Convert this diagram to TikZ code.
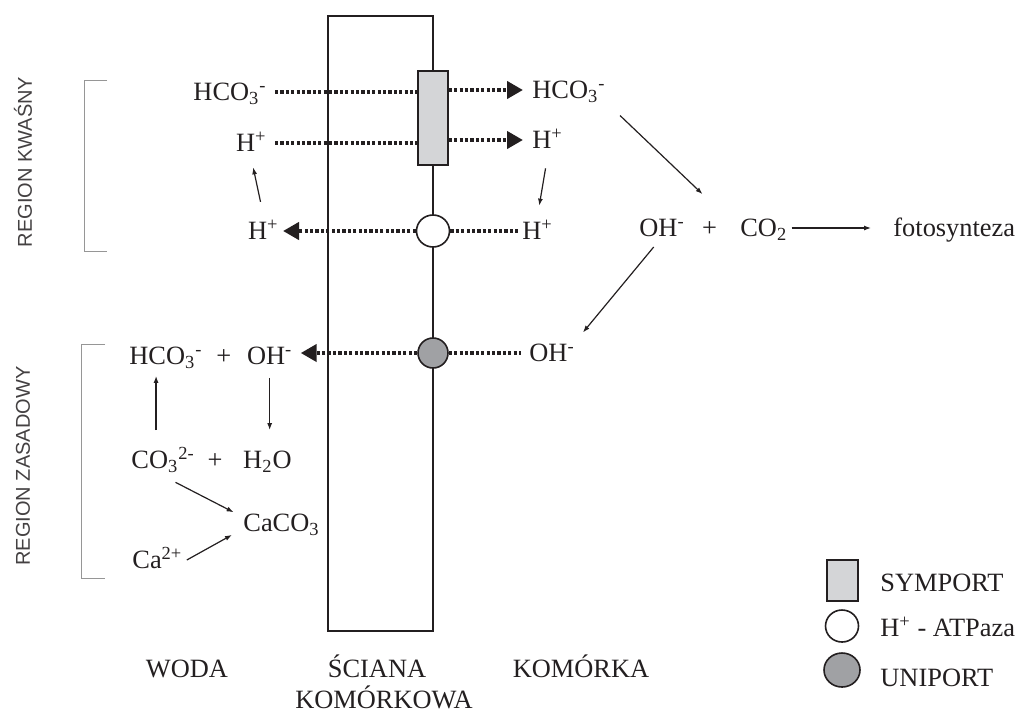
\documentclass[tikz,border=0pt]{standalone}
\usepackage{fontspec}
\setmainfont{Liberation Serif}
\setsansfont{Liberation Sans}
\usetikzlibrary{arrows.meta,positioning,shapes.geometric,calc}
\definecolor{ink}{RGB}{35,31,32}
\definecolor{symgray}{RGB}{212,213,215}
\definecolor{unigray}{RGB}{160,161,164}
\definecolor{bracketgray}{RGB}{150,150,150}
\tikzset{
    chem/.style={
        inner sep=2pt,
        text height=10pt,
        text depth=1.5pt,
        text=ink,
        font=\fontsize{13.2}{15}\selectfont
    },
    zone/.style={
        inner sep=0pt,
        text height=9pt,
        text depth=0pt,
        text=ink,
        font=\fontsize{13.2}{15}\selectfont
    },
    region/.style={
        rotate=90,
        text=ink!85,
        font=\sffamily\fontsize{10}{12}\selectfont
    },
    wall/.style={
        rectangle,
        draw=ink,
        line width=1pt,
        minimum width=52.5pt,
        minimum height=307.5pt,
        inner sep=0pt
    },
    symport/.style={
        rectangle,
        draw=ink,
        line width=0.8pt,
        fill=symgray,
        minimum width=15pt,
        minimum height=47pt,
        inner sep=0pt
    },
    atpase/.style={
        ellipse,
        draw=ink,
        line width=0.8pt,
        fill=white,
        minimum width=16.5pt,
        minimum height=16pt,
        inner sep=0pt
    },
    uniport/.style={
        ellipse,
        draw=ink,
        line width=0.8pt,
        fill=unigray,
        minimum width=15pt,
        minimum height=15pt,
        inner sep=0pt
    },
    transport/.style={
        draw=ink,
        line width=2pt,
        dash pattern=on 1.6pt off 1.1pt
    },
    transportarrow/.style={
        transport,
        -{Triangle[length=8pt,width=8.5pt]}
    },
    reaction/.style={
        draw=ink,
        line width=0.6pt,
        -{Latex[length=3.5pt,width=2.5pt]}
    },
    bracket/.style={
        draw=bracketgray,
        line width=0.5pt
    }
}

\begin{document}
\begin{tikzpicture}[x=0.5pt, y=-0.5pt]
\useasboundingbox (0,0) rectangle (1020,713);

% Cell wall and membrane
\node[wall] (wall) at (380.5,323.5) {};
\node[symport] (sym) at (433,118) {};
\node[atpase] (atp) at (433,231) {};
\node[uniport] (uni) at (433,353) {};

% Acid region, water side
\node[chem, anchor=east] (hcoL) at (271,92) {HCO\textsubscript{3}\textsuperscript{-}};
\node[chem, anchor=east] (hL) at (271,143) {H\textsuperscript{+}};
\node[chem, anchor=east] (hLb) at (283,231) {H\textsuperscript{+}};

% Acid region, cell side
\node[chem, anchor=west] (hcoR) at (528,90) {HCO\textsubscript{3}\textsuperscript{-}};
\node[chem, anchor=west] (hR) at (528,140) {H\textsuperscript{+}};
\node[chem, anchor=west] (hRb) at (518,231) {H\textsuperscript{+}};

% Inside the cell
\node[chem, anchor=west] (ohC) at (635,228) {OH\textsuperscript{-}};
\node[chem, anchor=west, right=4.3pt of ohC] (plusC) {+};
\node[chem, anchor=west, right=7.3pt of plusC] (co2) {CO\textsubscript{2}};
\node[chem, anchor=west] (foto) at (889,228) {fotosynteza};
\node[chem, anchor=west] (ohR) at (525,353) {OH\textsuperscript{-}};

% Alkaline region, water side
\node[chem, anchor=west] (hcoZ) at (125,356) {HCO\textsubscript{3}\textsuperscript{-}};
\node[chem, anchor=west, right=2.5pt of hcoZ] (plusZ) {+};
\node[chem, anchor=west, right=3.5pt of plusZ] (ohZ) {OH\textsuperscript{-}};
\node[chem, anchor=west] (co3) at (127,460) {CO\textsubscript{3}\textsuperscript{2-}};
\node[chem, anchor=west, right=2pt of co3] (plusZb) {+};
\node[chem, anchor=west, right=6pt of plusZb] (h2o) {H\textsubscript{2}O};
\node[chem, anchor=west] (caco3) at (239,523) {CaCO\textsubscript{3}};
\node[chem, anchor=west] (ca) at (128,560) {Ca\textsuperscript{2+}};

% Transport through the membrane
\draw[transport, shorten <=2pt] (hcoL.east) -- (hcoL.east -| sym.west);
\draw[transport, shorten <=2pt] (hL.east) -- (hL.east -| sym.west);
\draw[transportarrow, shorten >=2.5pt] (sym.east |- hcoR.west) -- (hcoR.west);
\draw[transportarrow, shorten >=2.5pt] (sym.east |- hR.west) -- (hR.west);
\draw[transportarrow] (atp.west) -- (atp.west -| hLb.east);
\draw[transport] (atp.east) -- (atp.east -| hRb.west);
\draw[transportarrow, shorten >=2pt] (uni.west) -- (uni.west -| ohZ.east);
\draw[transport, shorten >=2pt] (uni.east) -- (uni.east -| ohR.west);

% Reactions
\draw[reaction, shorten <=6.8pt, shorten >=4.3pt] (hLb.north) -- (hL.south);
\draw[reaction, shorten <=6.3pt, shorten >=4.8pt] (hR.south) -- (hRb.north);
\draw[reaction, shorten <=7pt, shorten >=13pt] (hcoR.south east) -- (plusC.north east);
\draw[reaction, shorten <=2pt, shorten >=3pt] (ohC.-110) -- (ohR.north east);
\draw[reaction, shorten >=9pt] (co2.east) -- (foto.west);
\draw[reaction, shorten <=7pt, shorten >=2pt] ([xshift=-3.5pt]co3.north) -- ([xshift=-3.5pt]co3.north |- hcoZ.south);
\draw[reaction, shorten <=3pt, shorten >=7pt] (ohZ.south) -- (ohZ.south |- h2o.north);
\draw[reaction, shorten <=7pt, shorten >=3pt] (co3.south) -- ([yshift=4pt]caco3.west);
\draw[reaction, shorten >=4pt] (ca.east) -- ([yshift=-4pt]caco3.west);

% Regions
\draw[bracket] (107,80) -- (84,80) -- (84,251) -- (107,251);
\draw[bracket] (105,344) -- (81,344) -- (81,578) -- (105,578);
\node[region] (acid) at (23,162) {REGION KWAŚNY};
\node[region] (base) at (23,466) {REGION ZASADOWY};

% Column names
\node[zone] (water) at (187,668) {WODA};
\node[zone] (wallname) at (377,668) {ŚCIANA};
\node[zone] (wallname2) at (384,699) {KOMÓRKOWA};
\node[zone] (cell) at (581,668) {KOMÓRKA};

% Legend
\node[symport, minimum width=15.5pt, minimum height=20.5pt] (legsym) at (842.5,580.5) {};
\node[atpase] (legatp) at (842,626) {};
\node[uniport, minimum width=18pt, minimum height=17pt] (leguni) at (842,670) {};
\node[chem, anchor=west] (legsymtext) at (876,583) {SYMPORT};
\node[chem, anchor=west] (legatptext) at (876,628) {H\textsuperscript{+} - ATPaza};
\node[chem, anchor=west] (legunitext) at (876,678) {UNIPORT};
\end{tikzpicture}
\end{document}
